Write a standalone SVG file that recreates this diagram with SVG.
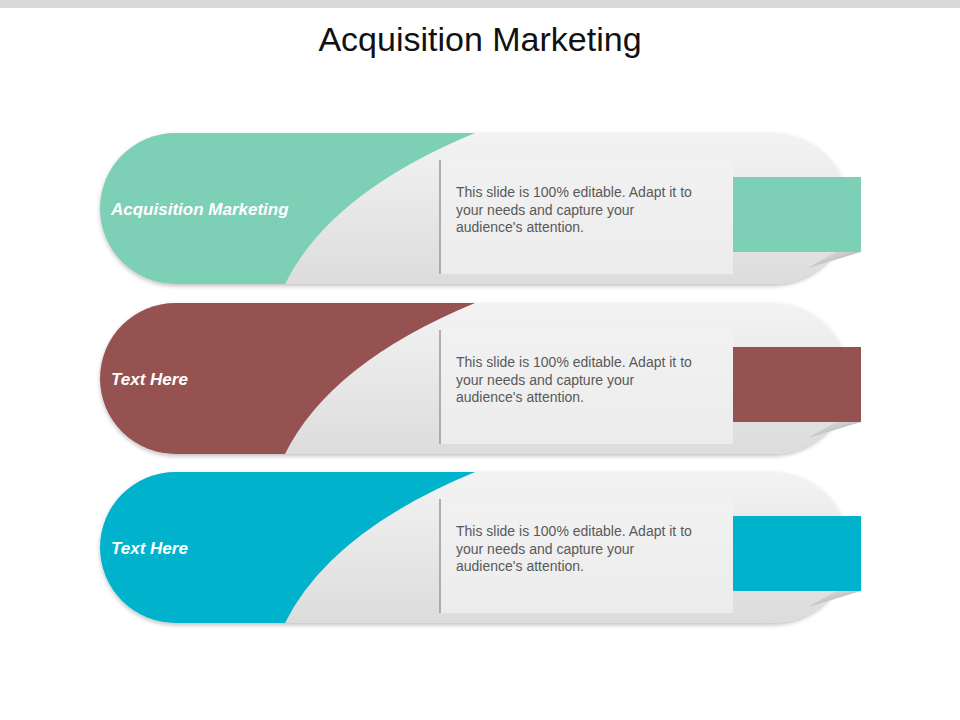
<svg xmlns="http://www.w3.org/2000/svg" width="960" height="720" viewBox="0 0 960 720">
<defs>
<linearGradient id="g" x1="0" y1="0" x2="0" y2="1"><stop offset="0" stop-color="#f3f3f3"/><stop offset="1" stop-color="#dcdcdc"/></linearGradient>
<linearGradient id="fold" x1="0" y1="0" x2="1" y2="1"><stop offset="0" stop-color="#e8e8e8"/><stop offset="1" stop-color="#a0a0a0"/></linearGradient>
<clipPath id="pill"><rect x="100" y="0" width="748" height="151" rx="75.5"/></clipPath>
<filter id="sh" x="-5%" y="-10%" width="110%" height="130%"><feDropShadow dx="0" dy="2" stdDeviation="2" flood-opacity="0.25"/></filter>
</defs>
<style>
.lbl{font-family:"Liberation Sans",Arial,sans-serif;font-size:17px;font-weight:bold;font-style:italic;fill:#fff}
.body{font-family:"Liberation Sans",Arial,sans-serif;font-size:14px;fill:#595959}
.ttl{font-family:"Liberation Sans",Arial,sans-serif;font-size:34px;fill:#111}
</style>
<rect x="0" y="0" width="960" height="8" fill="#d9d9d9"/>
<text class="ttl" x="480" y="51" text-anchor="middle">Acquisition Marketing</text>
<g id="row1" transform="translate(0,133)">
<rect x="100" y="0" width="748" height="151" rx="75.5" fill="url(#g)" filter="url(#sh)"/>
<rect x="440" y="25" width="293" height="116" fill="#f2f2f2" opacity="0.7"/>
<path d="M100,0 H475 Q330,60 285,151 H100 Z" clip-path="url(#pill)" fill="#7dcfb6"/>
<line x1="440" y1="27" x2="440" y2="141" stroke="#999" stroke-width="1.5"/>
<path d="M808,135 L861,119 L836,119 Z" fill="url(#fold)"/>
<rect x="733" y="44" width="128" height="75" fill="#7dcfb6"/>
<text class="lbl" x="111" y="82">Acquisition Marketing</text>
<text class="body" x="456" y="64">This slide is 100% editable. Adapt it to</text>
<text class="body" x="456" y="82">your needs and capture your</text>
<text class="body" x="456" y="99">audience's attention.</text>
</g>
<g id="row2" transform="translate(0,303)">
<rect x="100" y="0" width="748" height="151" rx="75.5" fill="url(#g)" filter="url(#sh)"/>
<rect x="440" y="25" width="293" height="116" fill="#f2f2f2" opacity="0.7"/>
<path d="M100,0 H475 Q330,60 285,151 H100 Z" clip-path="url(#pill)" fill="#955251"/>
<line x1="440" y1="27" x2="440" y2="141" stroke="#999" stroke-width="1.5"/>
<path d="M808,135 L861,119 L836,119 Z" fill="url(#fold)"/>
<rect x="733" y="44" width="128" height="75" fill="#955251"/>
<text class="lbl" x="111" y="82">Text Here</text>
<text class="body" x="456" y="64">This slide is 100% editable. Adapt it to</text>
<text class="body" x="456" y="82">your needs and capture your</text>
<text class="body" x="456" y="99">audience's attention.</text>
</g>
<g id="row3" transform="translate(0,472)">
<rect x="100" y="0" width="748" height="151" rx="75.5" fill="url(#g)" filter="url(#sh)"/>
<rect x="440" y="25" width="293" height="116" fill="#f2f2f2" opacity="0.7"/>
<path d="M100,0 H475 Q330,60 285,151 H100 Z" clip-path="url(#pill)" fill="#00b2cb"/>
<line x1="440" y1="27" x2="440" y2="141" stroke="#999" stroke-width="1.5"/>
<path d="M808,135 L861,119 L836,119 Z" fill="url(#fold)"/>
<rect x="733" y="44" width="128" height="75" fill="#00b2cb"/>
<text class="lbl" x="111" y="82">Text Here</text>
<text class="body" x="456" y="64">This slide is 100% editable. Adapt it to</text>
<text class="body" x="456" y="82">your needs and capture your</text>
<text class="body" x="456" y="99">audience's attention.</text>
</g>
</svg>
